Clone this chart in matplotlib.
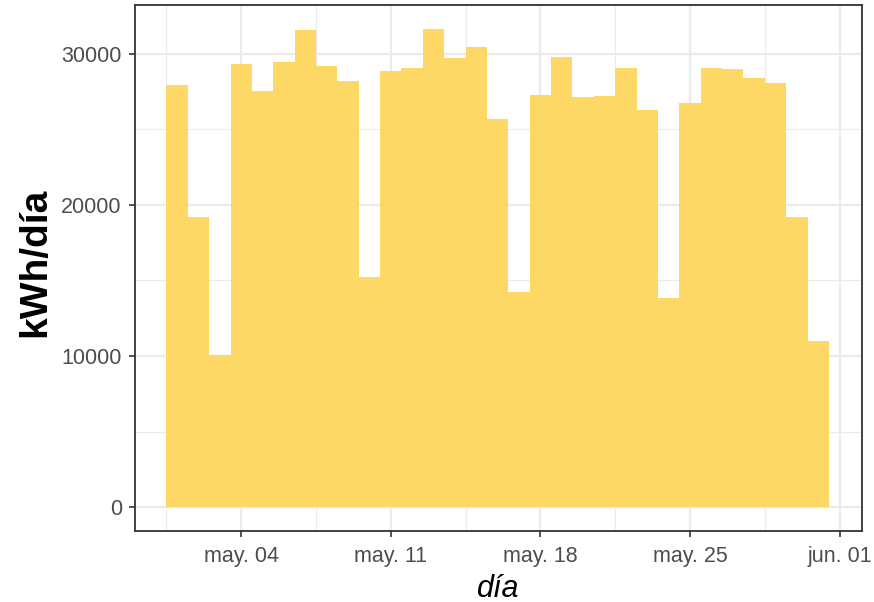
import matplotlib
matplotlib.use('Agg')
import matplotlib.pyplot as plt
import matplotlib.dates as mdates
from matplotlib.ticker import MultipleLocator
import pandas as pd

plt.rcParams['font.family'] = ['Liberation Sans', 'DejaVu Sans']

# daily energy for one month
dias = pd.date_range('2021-05-01', '2021-05-31', freq='D')
kwh = [27950, 19190, 10090, 29340, 27560, 29470, 31580, 29210, 28220, 15230,
       28880, 29080, 31650, 29740, 30460, 25710, 14240, 27300, 29800, 27170,
       27230, 29080, 26310, 13850, 26770, 29080, 29010, 28420, 28090, 19190,
       11010]
bar_color = '#FDD867'

fig = plt.figure(figsize=(8.74, 6.02), dpi=100)
ax = fig.add_axes([135 / 874, (602 - 531) / 602, (862 - 135) / 874, (531 - 5) / 602])

ax.bar(dias, kwh, width=1.0, color=bar_color, linewidth=0, zorder=2)

major_days = pd.date_range('2021-05-04', '2021-06-01', freq='7D')
minor_days = [d + pd.Timedelta(hours=84) for d in pd.date_range('2021-04-27', '2021-05-25', freq='7D')]
ax.set_xticks(major_days)
ax.set_xticklabels(['may. 04', 'may. 11', 'may. 18', 'may. 25', 'jun. 01'])
ax.set_xticks(minor_days, minor=True)
ax.yaxis.set_major_locator(MultipleLocator(10000))
ax.yaxis.set_minor_locator(MultipleLocator(5000))

x0 = mdates.date2num(dias[0]) - 0.5
x1 = mdates.date2num(dias[-1]) + 0.5
pad = (x1 - x0) * 0.05
ax.set_xlim(x0 - pad + 0.08, x1 + pad)
ymax = max(kwh)
ax.set_ylim(-ymax * 0.05, ymax * 1.05)

ax.grid(which='major', color='#EBEBEB', linewidth=1.6, zorder=0)
ax.grid(which='minor', color='#EBEBEB', linewidth=0.8, zorder=0)
ax.set_axisbelow(True)

for s in ax.spines.values():
    s.set_color('#333333')
    s.set_linewidth(1.3)

ax.tick_params(which='major', length=4.5, width=1.2, color='#333333',
               labelcolor='#4D4D4D', labelsize=15.5, pad=5)
ax.tick_params(axis='x', which='major', pad=6)
ax.tick_params(which='minor', length=0)

ax.set_xlabel('día', fontsize=22, fontstyle='italic', labelpad=5)
ax.set_ylabel('kWh/día', fontsize=28, fontweight='bold')
ax.yaxis.set_label_coords(-0.113, 0.51)

fig.savefig('out.png', dpi=100, facecolor='white')
